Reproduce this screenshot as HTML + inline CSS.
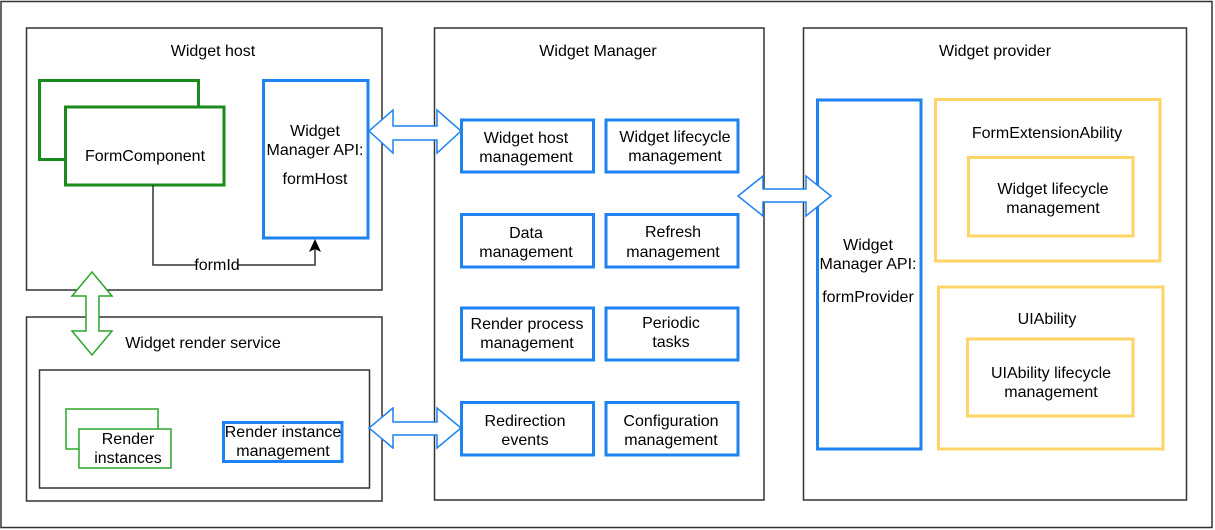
<!DOCTYPE html>
<html><head><meta charset="utf-8"><style>
html,body{margin:0;padding:0;background:#fff;width:1215px;height:530px;overflow:hidden}
text{font-family:"Liberation Sans",Arial,sans-serif;font-size:16px;fill:#000}
</style></head><body>
<svg width="1215" height="530" xmlns="http://www.w3.org/2000/svg">
<rect x="1" y="1.5" width="1211" height="526" fill="none" stroke="#333" stroke-width="1.5"/>
<g fill="none" stroke="#333" stroke-width="1.5">
<rect x="26.5" y="28" width="355.5" height="262"/>
<rect x="26.5" y="317" width="355.5" height="184"/>
<rect x="39.5" y="370" width="330" height="118"/>
<rect x="434.5" y="28" width="329.5" height="472"/>
<rect x="803.5" y="28" width="383" height="472"/>
</g>
<g fill="#fff" stroke="#1a8a1a" stroke-width="3">
<rect x="39.5" y="80.5" width="159" height="79"/>
<rect x="65.5" y="107" width="158.5" height="78"/>
</g>
<g fill="#fff" stroke="#2aa52a" stroke-width="1.5">
<rect x="66" y="409" width="92" height="40"/>
<rect x="79" y="429" width="92" height="39"/>
</g>
<g fill="#fff" stroke="#1e82f0" stroke-width="3">
<rect x="263.5" y="80.5" width="104.5" height="157.5"/>
<rect x="223.5" y="422.5" width="118.5" height="39"/>
<rect x="817.5" y="100" width="103.5" height="349"/>
<rect x="461.5" y="120" width="132" height="52"/>
<rect x="606" y="120" width="132" height="52"/>
<rect x="461.5" y="214.5" width="132" height="52.5"/>
<rect x="606" y="214.5" width="132" height="52.5"/>
<rect x="461.5" y="308" width="132" height="52"/>
<rect x="606" y="308" width="132" height="52"/>
<rect x="461.5" y="402.5" width="132" height="52.5"/>
<rect x="606" y="402.5" width="132" height="52.5"/>
</g>
<g fill="none" stroke="#ffd466" stroke-width="3">
<rect x="935.5" y="99.5" width="224.5" height="161.5"/>
<rect x="968.5" y="157.5" width="164.5" height="78.5"/>
<rect x="938.5" y="287" width="224.5" height="162"/>
<rect x="967.5" y="339" width="165.5" height="77"/>
</g>
<g fill="#fff" stroke="#1e82f0" stroke-width="1.5">
<polygon points="369,131 393,110 393,126 437,126 437,110 461,131 437,153 437,140 393,140 393,153"/>
<polygon points="369,428 393,408 393,422 437,422 437,408 461,428 437,448 437,435 393,435 393,448"/>
<polygon points="738,196 763,176 763,189 806,189 806,176 831,196 806,216 806,202 763,202 763,216"/>
</g>
<polygon points="92,272 112,296 99,296 99,331 112,331 92,355 72,331 86,331 86,296 72,296" fill="#fff" stroke="#2aa52a" stroke-width="1.5"/>
<polyline points="153,185 153,265 315,265 315,246" fill="none" stroke="#333" stroke-width="1.5"/>
<polygon points="315,239 309,252 315,249 321,252" fill="#000"/>
<rect x="196" y="257" width="42" height="16" fill="#fff"/>
<text x="217" y="270" text-anchor="middle" font-size="15">formId</text>
<g text-anchor="middle">
<text x="213" y="56">Widget host</text>
<text x="145" y="161">FormComponent</text>
<text x="315" y="136">Widget</text>
<text x="315" y="155">Manager API:</text>
<text x="315" y="184">formHost</text>
<text x="203" y="348">Widget render service</text>
<text x="128" y="444">Render</text>
<text x="128" y="463">instances</text>
<text x="283" y="437">Render instance</text>
<text x="283" y="456">management</text>
<text x="598" y="56">Widget Manager</text>
<text x="526" y="143">Widget host</text>
<text x="526" y="162">management</text>
<text x="675" y="142">Widget lifecycle</text>
<text x="675" y="161">management</text>
<text x="526" y="238">Data</text>
<text x="526" y="257">management</text>
<text x="673" y="237">Refresh</text>
<text x="673" y="257">management</text>
<text x="527" y="329">Render process</text>
<text x="527" y="348">management</text>
<text x="671" y="328">Periodic</text>
<text x="671" y="347">tasks</text>
<text x="525" y="426">Redirection</text>
<text x="525" y="445">events</text>
<text x="671" y="426">Configuration</text>
<text x="671" y="445">management</text>
<text x="995" y="56">Widget provider</text>
<text x="868" y="250">Widget</text>
<text x="868" y="269">Manager API:</text>
<text x="868" y="302" font-size="15">formProvider</text>
<text x="1047" y="138">FormExtensionAbility</text>
<text x="1053" y="194">Widget lifecycle</text>
<text x="1053" y="213">management</text>
<text x="1047" y="324">UIAbility</text>
<text x="1051" y="378">UIAbility lifecycle</text>
<text x="1051" y="397">management</text>
</g>
</svg>
</body></html>
